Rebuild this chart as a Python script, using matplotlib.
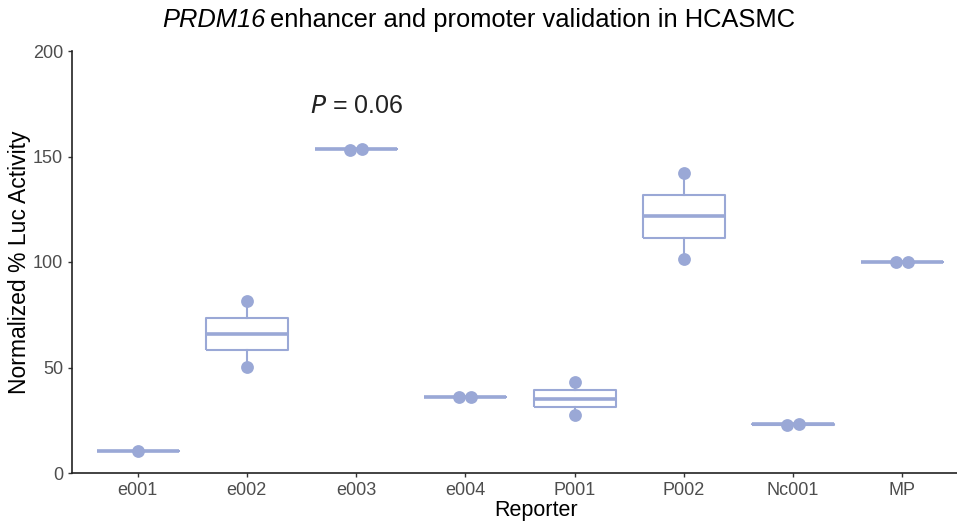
import numpy as np
import matplotlib
matplotlib.use('Agg')
import matplotlib.pyplot as plt

# Data
REPORTERS = ['e001', 'e002', 'e003', 'e004', 'P001', 'P002', 'Nc001', 'MP']
VALUES = {
    'e001': [10.6],
    'e002': [50.3, 81.4],
    'e003': [153.3, 153.6],
    'e004': [36.0, 36.2],
    'P001': [27.4, 43.2],
    'P002': [101.4, 142.1],
    'Nc001': [22.9, 23.1],
    'MP': [99.9, 100.1],
}
P_LABEL_REPORTER = 'e003'
P_LABEL_Y = 174
P_VALUE = '0.06'

COLOR = '#9AA8D6'

plt.rcParams['font.family'] = ['Liberation Sans', 'DejaVu Sans']

W, H = 957, 524
fig = plt.figure(figsize=(W / 100, H / 100), dpi=100)
# axes spans x 72..968 px (right part cropped by the figure), y 51..473 px
ax = fig.add_axes([72 / W, 51 / H, (968 - 72) / W, 422 / H])

for i, name in enumerate(REPORTERS):
    vals = np.array(VALUES[name])
    q1, med, q3 = np.percentile(vals, [25, 50, 75])
    lo, hi = vals.min(), vals.max()
    half = 0.375
    # box
    ax.plot([i - half, i + half, i + half, i - half, i - half],
            [q1, q1, q3, q3, q1], color=COLOR, lw=1.5, solid_capstyle='butt')
    # median
    ax.plot([i - half, i + half], [med, med], color=COLOR, lw=2.6, solid_capstyle='butt')
    # whiskers
    ax.plot([i, i], [q3, hi], color=COLOR, lw=1.5)
    ax.plot([i, i], [lo, q1], color=COLOR, lw=1.5)
    # points, nudged apart when they sit on top of each other
    if len(vals) == 2 and abs(vals[1] - vals[0]) < 3:
        xs = [i - 0.055, i + 0.055]
    else:
        xs = [i] * len(vals)
    ax.scatter(xs, vals, s=85, color=COLOR, zorder=3, linewidths=0)

ax.text(REPORTERS.index(P_LABEL_REPORTER), P_LABEL_Y, r'$P$' + ' = ' + P_VALUE,
        ha='center', va='center', fontsize=18, color='#222222')

ax.set_xlim(-0.6, 7.6)
ax.set_ylim(0, 200)
ax.set_xticks(range(len(REPORTERS)))
ax.set_xticklabels(REPORTERS)
ax.set_yticks([0, 50, 100, 150, 200])
ax.tick_params(axis='both', labelsize=13, labelcolor='#4D4D4D', length=3, width=1, color='#333333')
for side in ['top', 'right']:
    ax.spines[side].set_visible(False)
for side in ['left', 'bottom']:
    ax.spines[side].set_linewidth(1.2)
    ax.spines[side].set_color('#222222')

ax.set_xlabel('Reporter', fontsize=15.5)
ax.xaxis.set_label_coords((536 - 72) / (968 - 72), -27 / 422)
ax.set_ylabel('Normalized % Luc Activity', fontsize=16.5, labelpad=1)

# title: italic gene name followed by plain text
renderer = fig.canvas.get_renderer()
t1 = fig.text(162 / W, 1 - 20 / H, 'PRDM16', fontsize=18.4, style='italic', ha='left', va='center')
bb = t1.get_window_extent(renderer)
fig.text((bb.x1 + 5) / W, 1 - 20 / H, 'enhancer and promoter validation in HCASMC',
         fontsize=18.4, ha='left', va='center')

fig.savefig('out.png', dpi=100)
